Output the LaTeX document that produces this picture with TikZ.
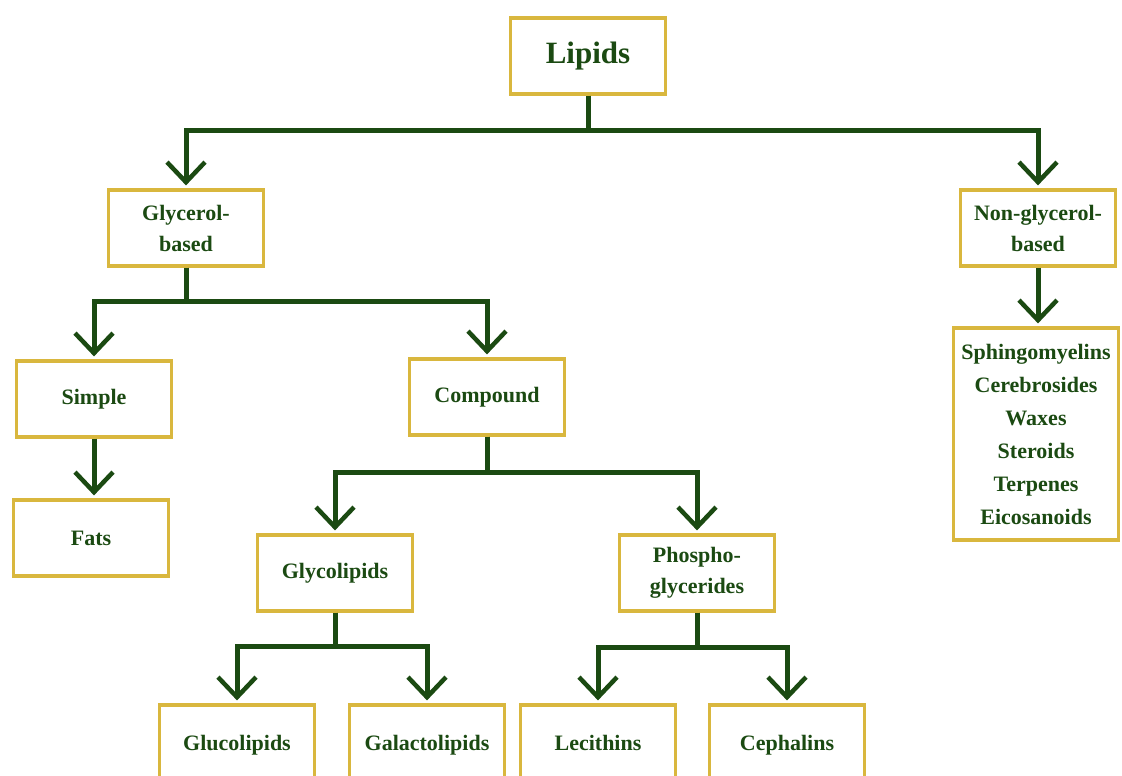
\documentclass[tikz,border=0pt]{standalone}
\usepackage{fontspec}
\setmainfont{Liberation Serif}
\usetikzlibrary{arrows.meta}
\definecolor{verdescuro}{HTML}{1B4A12}
\definecolor{oro}{HTML}{D9B73E}
\tikzset{
  scatola/.style={draw=oro, line width=3.2pt, fill=white, text=verdescuro,
    minimum width=155pt, minimum height=76pt, align=center,
    font=\bfseries\fontsize{22}{31}\selectfont, inner sep=2pt},
  etichetta/.style={text=verdescuro, font=\bfseries\fontsize{22}{31}\selectfont,
    text height=15pt, text depth=5pt},
  freccia/.style={draw=verdescuro, line width=5pt,
    -{Straight Barb[length=20pt, width=38pt, line width=4.5pt]}, shorten >=3pt}
}
\begin{document}
\begin{tikzpicture}[x=1pt, y=-1pt]
        \useasboundingbox (0,0) rectangle (1122,776);
        % Nodi principali
        \node[scatola, font=\bfseries\fontsize{31}{36}\selectfont](nLipids) at (588,56) {Lipids};
        \node[scatola](nGlycerol) at (186,228) {Glycerol-\\based};
        \node[scatola](nNonGlycerol) at (1038,228) {Non-glycerol-\\based};

        % Secondo livello
        \node[scatola](nSimple) at (94,399) {Simple};
        \node[scatola](nCompound) at (487,397) {Compound};
        \node[scatola](nFats) at (91,538) {Fats};
        \node[scatola, minimum width=165pt, minimum height=212pt, font=\bfseries\fontsize{22}{33}\selectfont](nAltri) at (1036,434)
          {Sphingomyelins\\Cerebrosides\\Waxes\\Steroids\\Terpenes\\Eicosanoids};

        % Terzo livello
        \node[scatola](nGlycolipids) at (335,573) {Glycolipids};
        \node[scatola](nPhospho) at (697,573) {Phospho-\\glycerides};

        % Ultimo livello
        \node[scatola, minimum height=80pt](nGluco) at (237,745) {};
        \node[scatola, minimum height=80pt](nGalacto) at (427,745) {};
        \node[scatola, minimum height=80pt](nLecithins) at (598,745) {};
        \node[scatola, minimum height=80pt](nCephalins) at (787,745) {};
        \node[etichetta] (tGluco) at (237,745) {Glucolipids};
        \node[etichetta] (tGalacto) at (427,745) {Galactolipids};
        \node[etichetta] (tLecithins) at (598,745) {Lecithins};
        \node[etichetta] (tCephalins) at (787,745) {Cephalins};

        % Collegamenti
        \draw[freccia] (nLipids.south) -- ++(0,35) -| (nGlycerol.north);
        \draw[freccia] (nLipids.south) -- ++(0,35) -| (nNonGlycerol.north);
        \draw[freccia] (nGlycerol.south) -- ++(0,34) -| (nSimple.north);
        \draw[freccia] (nGlycerol.south) -- ++(0,34) -| (nCompound.north);
        \draw[freccia] (nNonGlycerol.south) -- (nNonGlycerol.south |- nAltri.north);
        \draw[freccia] (nSimple.south) -- (nFats.north -| nSimple.south);
        \draw[freccia] (nCompound.south) -- ++(0,36) -| (nGlycolipids.north);
        \draw[freccia] (nCompound.south) -- ++(0,36) -| (nPhospho.north);
        \draw[freccia] (nGlycolipids.south) -- ++(0,34) -| (nGluco.north);
        \draw[freccia] (nGlycolipids.south) -- ++(0,34) -| (nGalacto.north);
        \draw[freccia] (nPhospho.south) -- ++(0,35) -| (nLecithins.north);
        \draw[freccia] (nPhospho.south) -- ++(0,35) -| (nCephalins.north);
    \end{tikzpicture}
\end{document}
